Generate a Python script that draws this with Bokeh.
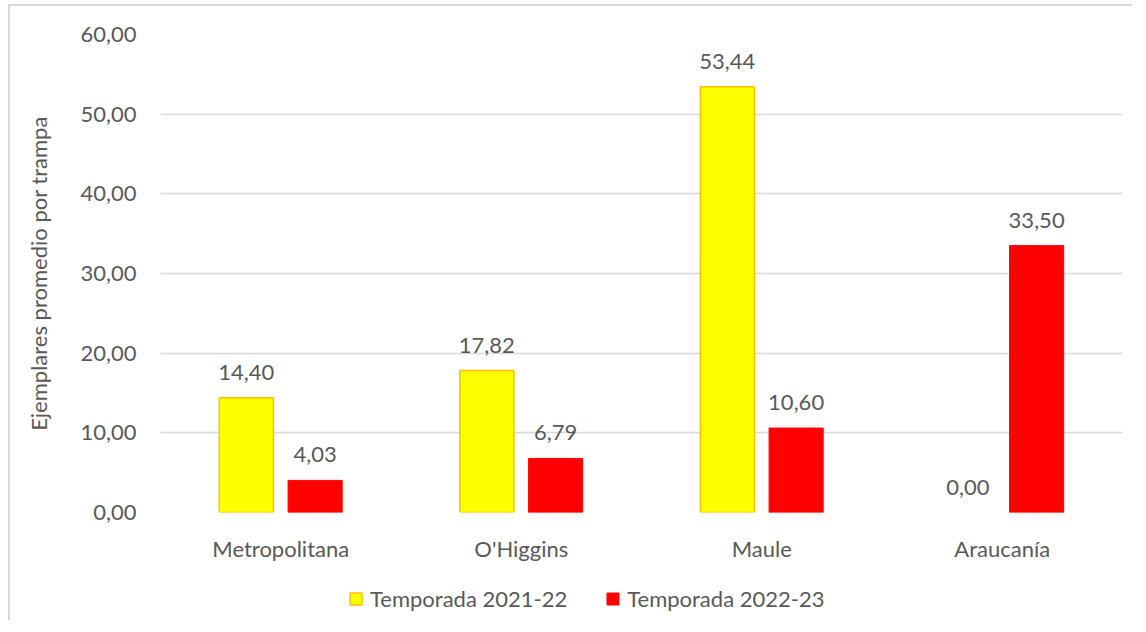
from bokeh.plotting import figure
from bokeh.models import (ColumnDataSource, Range1d, FixedTicker, CustomJSTickFormatter,
                          LabelSet, Legend, LegendItem, Spacer)
from bokeh.layouts import column, row
from bokeh.transform import dodge
from bokeh.core.properties import value
from bokeh.embed import file_html
from bokeh.resources import INLINE

regions = ["Metropolitana", "O'Higgins", "Maule", "Araucanía"]
season_a = [14.40, 17.82, 53.44, 0.00]
season_b = [4.03, 6.79, 10.60, 33.50]
series_names = ["Temporada 2021-22", "Temporada 2022-23"]
y_ticks = [0, 10, 20, 30, 40, 50, 60]
y_title = "Ejemplares promedio por trampa"

FONT = "Lato"
TXT = "#595959"
YEL = dict(fill_color="#FFFF00", line_color="#FFC000", line_width=1.5)
RED = dict(fill_color="#FF0000", line_color="#FF0000", line_width=1)


def fmt(v):
    return f"{v:.2f}".replace(".", ",")


src = ColumnDataSource(dict(
    region=regions,
    a=season_a,
    b=season_b,
    a_lab=[fmt(v) for v in season_a],
    b_lab=[fmt(v) for v in season_b],
    # zero-height bars get no visible outline (as in the reference)
    a_line=[1.0 if v > 0 else 0.0 for v in season_a],
    b_line=[1.0 if v > 0 else 0.0 for v in season_b],
))

OFF = 0.143
W = 0.225

# ---------------- main chart ----------------
p = figure(x_range=regions, y_range=Range1d(0, 60), width=1122, height=558,
           output_backend="svg", toolbar_location=None,
           min_border_left=150, min_border_right=10, min_border_top=28, min_border_bottom=50)
p.outline_line_color = None
p.background_fill_color = "white"
p.border_fill_color = "white"

p.vbar(x=dodge("region", -OFF, range=p.x_range), top="a", width=W, source=src,
       line_alpha="a_line", **YEL)
p.vbar(x=dodge("region", OFF, range=p.x_range), top="b", width=W, source=src,
       line_alpha="b_line", **RED)

for col, off in (("a", -OFF), ("b", OFF)):
    lbl = LabelSet(x=dodge("region", off, range=p.x_range), y=col, text=col + "_lab",
                   source=src, y_offset=18, text_align="center", text_baseline="alphabetic",
                   text_font=value(FONT), text_font_size="22px", text_color=TXT)
    p.add_layout(lbl)

p.xgrid.grid_line_color = None
p.ygrid.grid_line_color = "#D9D9D9"
p.ygrid.grid_line_width = 1.3

p.yaxis.ticker = FixedTicker(ticks=y_ticks)
p.yaxis.formatter = CustomJSTickFormatter(code="return tick.toFixed(2).replace('.', ',');")
p.yaxis.axis_label = y_title
p.yaxis.axis_label_text_font = FONT
p.yaxis.axis_label_text_font_size = "22px"
p.yaxis.axis_label_text_font_style = "normal"
p.yaxis.axis_label_text_color = TXT
p.yaxis.axis_label_standoff = 25
p.yaxis.major_label_standoff = 18

for ax in (p.xaxis, p.yaxis):
    ax.axis_line_color = None
    ax.major_tick_line_color = None
    ax.minor_tick_line_color = None
    ax.major_label_text_font = FONT
    ax.major_label_text_font_size = "22px"
    ax.major_label_text_color = TXT
p.xaxis.major_label_standoff = 16

# ---------------- legend strip (legend proxies: styled renderers with no drawn geometry) ----------------
q = figure(x_range=regions, y_range=Range1d(0, 1), width=1122, height=56,
           output_backend="svg", toolbar_location=None,
           min_border_left=0, min_border_right=0, min_border_top=0, min_border_bottom=0)
q.xaxis.visible = False
q.yaxis.visible = False
q.xgrid.grid_line_color = None
q.ygrid.grid_line_color = None
q.outline_line_color = None
q.border_fill_color = "white"
la = q.vbar(x="region", top=float("nan"), width=W, source=src, **YEL)
lb = q.vbar(x="region", top=float("nan"), width=W, source=src, **RED)

legend = Legend(items=[LegendItem(label=series_names[0], renderers=[la]),
                       LegendItem(label=series_names[1], renderers=[lb])],
                orientation="horizontal", location=(188, 8),
                glyph_width=15, glyph_height=15, label_standoff=7, spacing=38,
                padding=0, margin=0, border_line_color=None, background_fill_alpha=0,
                label_text_font=FONT, label_text_font_size="22px", label_text_color=TXT)
q.add_layout(legend, "center")

chart = column(p, q, spacing=0,
               styles={"border-left": "2px solid #D9D9D9", "border-top": "2px solid #D9D9D9"})
layout = column(Spacer(height=4), row(Spacer(width=8), chart))
open("out.html", "w").write(file_html(layout, INLINE))
